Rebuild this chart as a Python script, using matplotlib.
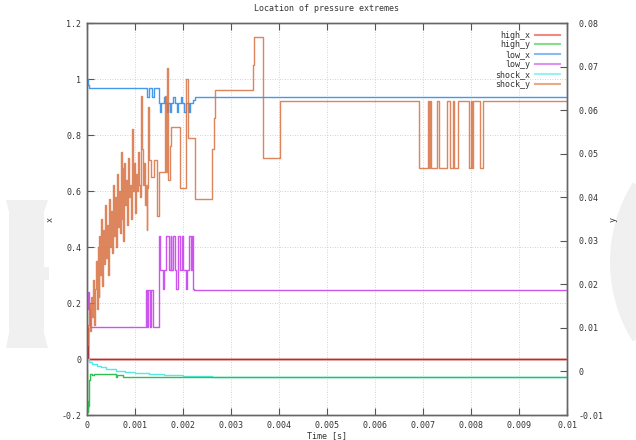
import numpy as np
import matplotlib.pyplot as plt
from matplotlib.patches import Polygon, Wedge
from matplotlib.lines import Line2D

plt.rcParams['font.family'] = 'DejaVu Sans Mono'
plt.rcParams['font.size'] = 6

# high_x : left axis (x)
high_x_t = [0.0, 0.00002, 0.0005, 0.0015, 0.003, 0.0045, 0.006, 0.0075, 0.009, 0.01]
high_x_v = [0.11, 0.0, 0.0008, 0.0, 0.0008, 0.0, 0.0008, 0.0, 0.0008, 0.0]

# high_y : right axis (y)
high_y_t = [0.0, 0.00001, 0.00002, 0.00003, 0.00004, 0.00005, 0.00007, 0.0001,
            0.00015, 0.0006, 0.00063, 0.00075, 0.01]
high_y_v = [0.0003, -0.0068, -0.0094, -0.0080, -0.0036, -0.0020, -0.0007, -0.0009,
            -0.0007, -0.0012, -0.0008, -0.0012, -0.0012]

# low_x : left axis
low_x_t = [0.0, 0.00002, 0.00005, 0.00124, 0.00129, 0.00135, 0.0014, 0.00149,
           0.00152, 0.00155, 0.0016, 0.00162, 0.00166, 0.00169, 0.00172, 0.00175,
           0.0018, 0.00183, 0.00187, 0.0019, 0.00195, 0.00198, 0.00203, 0.00207,
           0.00212, 0.00215, 0.0022, 0.00225, 0.01]
low_x_v = [1.0, 0.98, 0.967, 0.935, 0.967, 0.935, 0.967, 0.913,
           0.882, 0.913, 0.935, 0.913, 0.882, 0.913, 0.882, 0.913,
           0.935, 0.913, 0.882, 0.913, 0.935, 0.913, 0.882, 0.913,
           0.882, 0.913, 0.925, 0.935, 0.935]

# low_y : right axis
low_y_t = [0.0, 0.00002, 0.00004, 0.00006, 0.00122, 0.00125, 0.00127, 0.00131,
           0.00134, 0.00138, 0.00149, 0.0015, 0.00153, 0.00158, 0.00161, 0.00164,
           0.0017, 0.00174, 0.00176, 0.00179, 0.00183, 0.00186, 0.0019, 0.00193,
           0.00197, 0.00201, 0.00206, 0.00209, 0.00213, 0.00216, 0.00219, 0.0022,
           0.00222, 0.01]
low_y_v = [0.0144, 0.0183, 0.0144, 0.0101, 0.0186, 0.0101, 0.0186, 0.0101,
           0.0186, 0.0101, 0.0234, 0.0311, 0.0234, 0.0189, 0.0234, 0.0311,
           0.0234, 0.0311, 0.0234, 0.0311, 0.0234, 0.0189, 0.0311, 0.0234,
           0.0311, 0.0234, 0.0189, 0.0234, 0.0311, 0.0234, 0.0311, 0.0189,
           0.0186, 0.0186]

# shock_x : left axis
shock_x_t = [0.0, 0.00005, 0.0001, 0.0002, 0.0003, 0.0004, 0.0006, 0.0008,
             0.001, 0.0013, 0.0016, 0.002, 0.0026, 0.01]
shock_x_v = [0.0, -0.012, -0.018, -0.025, -0.030, -0.035, -0.042, -0.047,
             -0.051, -0.055, -0.058, -0.060, -0.063, -0.063]

# shock_y : right axis
shock_y_t = [0.0, 0.00002, 0.00004, 0.00006, 0.00008, 0.0001, 0.00012, 0.00014,
             0.00016, 0.00018, 0.0002, 0.00022, 0.00024, 0.00026, 0.00028, 0.0003,
             0.00032, 0.00034, 0.00036, 0.00038, 0.0004, 0.00042, 0.00044, 0.00046,
             0.00048, 0.0005, 0.00052, 0.00054, 0.00056, 0.00058, 0.0006, 0.00062,
             0.00064, 0.00066, 0.00068, 0.0007, 0.00072, 0.00074, 0.00076, 0.00078,
             0.0008, 0.00082, 0.00084, 0.00086, 0.00088, 0.0009, 0.00092, 0.00094,
             0.00096, 0.00098, 0.001, 0.00102, 0.00104, 0.00106, 0.00108, 0.0011,
             0.00112, 0.00114, 0.00116, 0.00118, 0.0012, 0.00122, 0.00124, 0.00126,
             0.00128, 0.0013, 0.00134, 0.0014, 0.00146, 0.0015, 0.00162, 0.00164,
             0.00166, 0.00168, 0.00172, 0.00175, 0.00194, 0.00206, 0.00211, 0.00225,
             0.00261, 0.00264, 0.00267, 0.00346, 0.00348, 0.00366, 0.00402, 0.00692,
             0.0071, 0.00712, 0.00714, 0.00717, 0.00729, 0.00734, 0.00751, 0.00757,
             0.00762, 0.00765, 0.00772, 0.00795, 0.00799, 0.00802, 0.00805, 0.00819,
             0.00826, 0.01]
shock_y_v = [0.0061, 0.0106, 0.0157, 0.0093, 0.0170, 0.0125, 0.0209, 0.0106,
             0.0189, 0.0254, 0.0144, 0.0286, 0.0170, 0.0311, 0.0221, 0.0350,
             0.0196, 0.0324, 0.0247, 0.0382, 0.0260, 0.0337, 0.0221, 0.0395,
             0.0286, 0.0369, 0.0273, 0.0427, 0.0311, 0.0401, 0.0286, 0.0453,
             0.0331, 0.0414, 0.0318, 0.0504, 0.0350, 0.0466, 0.0299, 0.0479,
             0.0382, 0.0440, 0.0337, 0.0491, 0.0401, 0.0427, 0.0350, 0.0556,
             0.0414, 0.0479, 0.0363, 0.0453, 0.0414, 0.0504, 0.0427, 0.0401,
             0.0633, 0.0511, 0.0427, 0.0479, 0.0382, 0.0427, 0.0324, 0.0421,
             0.0607, 0.0485, 0.0446, 0.0485, 0.0356, 0.0459, 0.0633, 0.0459,
             0.0697, 0.0440, 0.0517, 0.0562, 0.0421, 0.0671, 0.0536, 0.0395,
             0.0511, 0.0581, 0.0646, 0.0704, 0.0768, 0.0491, 0.0620, 0.0466,
             0.0620, 0.0466, 0.0620, 0.0466, 0.0620, 0.0466, 0.0620, 0.0466,
             0.0620, 0.0466, 0.0620, 0.0466, 0.0620, 0.0466, 0.0620, 0.0466,
             0.0620, 0.0620]

x_ticks = [0, 0.001, 0.002, 0.003, 0.004, 0.005, 0.006, 0.007, 0.008, 0.009, 0.01]
x_tick_labels = ['0', '0.001', '0.002', '0.003', '0.004', '0.005', '0.006',
                 '0.007', '0.008', '0.009', '0.01']
x_axis_ticks = [-0.2, 0, 0.2, 0.4, 0.6, 0.8, 1, 1.2]
x_axis_labels = ['-0.2', '0', '0.2', '0.4', '0.6', '0.8', '1', '1.2']
y_axis_ticks = [-0.01, 0, 0.01, 0.02, 0.03, 0.04, 0.05, 0.06, 0.07, 0.08]
y_axis_labels = ['-0.01', '0', '0.01', '0.02', '0.03', '0.04', '0.05', '0.06',
                 '0.07', '0.08']

W, H = 636, 440
fig = plt.figure(figsize=(W / 100, H / 100), dpi=100)

# faint background logo (pixel coords from the top-left corner)
bg = '#f0f0f0'
logo_left = [(6, 200), (48, 200), (44, 212), (44, 267), (49, 267), (49, 280), (44, 280),
             (44, 333), (48, 348), (6, 348), (9, 333), (9, 212)]
fig.patches.append(Polygon([(x, H - y) for x, y in logo_left], closed=True,
                           transform=None, facecolor=bg, edgecolor='none', zorder=-5))
fig.patches.append(Wedge((760, H - 262), 150, 148, 212, width=38, transform=None,
                         facecolor=bg, edgecolor='none', zorder=-5))

ax = fig.add_axes([87 / W, 1 - 415 / H, 480 / W, 392 / H])
ax.patch.set_alpha(0)
ax2 = ax.twinx()

ax.set_xlim(0, 0.01)
ax.set_ylim(-0.2, 1.2)
ax2.set_ylim(-0.01, 0.08)

ax.set_xticks(x_ticks)
ax.set_xticklabels(x_tick_labels)
ax.set_yticks(x_axis_ticks)
ax.set_yticklabels(x_axis_labels)
ax2.set_yticks(y_axis_ticks)
ax2.set_yticklabels(y_axis_labels)

ax.grid(True, color='#c4c4c4', linestyle=(0, (1, 2)), linewidth=0.6)
ax.tick_params(direction='in', length=5, width=0.8, top=True, colors='#555555',
               labelcolor='#333333', pad=4)
ax2.tick_params(direction='in', length=5, width=0.8, colors='#555555',
                labelcolor='#333333', pad=8)
for a in (ax, ax2):
    for s in a.spines.values():
        s.set_color('#666666')
        s.set_linewidth(1.0)

lw = 1.0
ax.step(high_x_t, high_x_v, where='post', color='#f0b8b8', lw=2.2, zorder=3)
ax.step(high_x_t, high_x_v, where='post', color='#b03030', lw=0.9, zorder=3)
ax2.step(high_y_t, high_y_v, where='post', color='#30c050', lw=lw)
ax.step(low_x_t, low_x_v, where='post', color='#4499ee', lw=lw, zorder=3)
ax2.step(low_y_t, low_y_v, where='post', color='#cc55ee', lw=lw)
ax.step(shock_x_t, shock_x_v, where='post', color='#55e8e8', lw=lw, zorder=3)
ax2.step(shock_y_t, shock_y_v, where='post', color='#d87040', lw=lw, alpha=0.85)

ax.set_title('Location of pressure extremes', fontsize=6, color='#333333', pad=9)
ax.set_xlabel('Time [s]', fontsize=6, color='#333333', labelpad=1)
ax.set_ylabel('x', fontsize=6, color='#333333', labelpad=5)
ax2.set_ylabel('y', fontsize=6, color='#333333', labelpad=4)

handles = [Line2D([], [], color=c, lw=1.5) for c in
           ['#f08888', '#88dd88', '#88bbf0', '#e090f0', '#99f0f0', '#e8aa88']]
names = ['high_x', 'high_y', 'low_x', 'low_y', 'shock_x', 'shock_y']
leg = ax.legend(handles, names, loc='upper right', frameon=False, fontsize=6,
                markerfirst=False, handlelength=3.0, handletextpad=0.5,
                labelspacing=0.1, borderaxespad=0.5)
for t in leg.get_texts():
    t.set_color('#333333')

fig.savefig('out.png', dpi=100)
